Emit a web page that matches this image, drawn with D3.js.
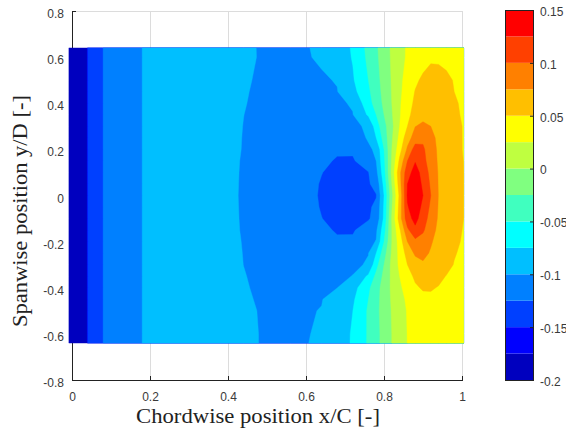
<!DOCTYPE html>
<html>
<head>
<meta charset="utf-8">
<script src="https://cdn.jsdelivr.net/npm/d3@7"></script>
<style>
  body { margin: 0; background: #fff; }
  svg text { font-family: Arial, "Liberation Sans", sans-serif; }
</style>
</head>
<body>
<div id="chart"></div>
<script>
/**
 * DATA
 * */
// contour band edges and their colours (jet, 14 levels)
const levelEdges = [-0.2, -0.175, -0.15, -0.125, -0.1, -0.075, -0.05, -0.025, 0, 0.025, 0.05, 0.075, 0.1, 0.125, 0.15];
const bandColors = ["#0000bf", "#0000ff", "#0040ff", "#0080ff", "#00bfff", "#00ffff", "#40ffbf",
  "#80ff80", "#bfff40", "#ffff00", "#ffbf00", "#ff8000", "#ff4000", "#ff0000"];

// measurement rows (spanwise y/D), top to bottom
const yGrid = [0.64, 0.6, 0.5, 0.45, 0.4, 0.35, 0.3, 0.25, 0.2, 0.15, 0.1, 0.05, 0,
  -0.05, -0.1, -0.15, -0.2, -0.25, -0.3, -0.35, -0.4, -0.45, -0.5, -0.6, -0.64];

// leading edge part: same at every span position
const xLead = [-0.008, 0.039, 0.041, 0.079, 0.081, 0.179, 0.181, 0.3, 0.38];
const leadProfile = [-0.185, -0.18, -0.14, -0.132, -0.115, -0.105, -0.095, -0.09, -0.093];

// aft part: one row per yGrid entry
const xAft = [0.44, 0.5, 0.56, 0.6, 0.64, 0.68, 0.72, 0.76, 0.78, 0.8, 0.82, 0.84, 0.86, 0.88, 0.9, 0.92, 0.94, 0.96, 0.98, 1.004];
const aftField = [
  [-0.0979, -0.1018, -0.1029, -0.1006, -0.0982, -0.0875, -0.0725, -0.0429, -0.0286, -0.0125, 0.0036, 0.0179, 0.0274, 0.0321, 0.0369, 0.0416, 0.0434, 0.0423, 0.0411, 0.0400],
  [-0.0978, -0.1018, -0.1032, -0.1012, -0.0980, -0.0880, -0.0735, -0.0445, -0.0296, -0.0133, 0.0033, 0.0179, 0.0276, 0.0339, 0.0401, 0.0455, 0.0452, 0.0440, 0.0425, 0.0410],
  [-0.0984, -0.1029, -0.1070, -0.1044, -0.1018, -0.0991, -0.0775, -0.0500, -0.0333, -0.0161, 0.0018, 0.0196, 0.0335, 0.0457, 0.0544, 0.0613, 0.0603, 0.0543, 0.0488, 0.0450],
  [-0.0988, -0.1038, -0.1084, -0.1081, -0.1044, -0.1007, -0.0828, -0.0542, -0.0361, -0.0176, 0.0010, 0.0202, 0.0367, 0.0511, 0.0588, 0.0665, 0.0629, 0.0564, 0.0500, 0.0460],
  [-0.0993, -0.1042, -0.1089, -0.1120, -0.1074, -0.1029, -0.0983, -0.0593, -0.0400, -0.0200, 0.0001, 0.0217, 0.0407, 0.0544, 0.0625, 0.0700, 0.0654, 0.0589, 0.0523, 0.0470],
  [-0.0999, -0.1049, -0.1099, -0.1133, -0.1121, -0.1064, -0.1007, -0.0717, -0.0500, -0.0250, -0.0023, 0.0225, 0.0446, 0.0582, 0.0690, 0.0714, 0.0653, 0.0592, 0.0531, 0.0480],
  [-0.1003, -0.1056, -0.1109, -0.1145, -0.1180, -0.1110, -0.1040, -0.0970, -0.0625, -0.0333, -0.0063, 0.0250, 0.0500, 0.0745, 0.0790, 0.0750, 0.0699, 0.0627, 0.0554, 0.0490],
  [-0.1006, -0.1055, -0.1104, -0.1136, -0.1169, -0.1202, -0.1117, -0.0977, -0.0750, -0.0396, -0.0033, 0.0313, 0.0643, 0.0861, 0.0945, 0.0806, 0.0706, 0.0632, 0.0559, 0.0490],
  [-0.1008, -0.1059, -0.1109, -0.1142, -0.1176, -0.1232, -0.1225, -0.1035, -0.0965, -0.0500, 0.0001, 0.0404, 0.0792, 0.1120, 0.1042, 0.0850, 0.0713, 0.0638, 0.0563, 0.0490],
  [-0.1014, -0.1077, -0.1140, -0.1183, -0.1225, -0.1262, -0.1269, -0.1147, -0.1000, -0.0550, 0.0028, 0.0550, 0.1000, 0.1235, 0.1080, 0.0875, 0.0720, 0.0645, 0.0571, 0.0498],
  [-0.1017, -0.1086, -0.1155, -0.1201, -0.1247, -0.1286, -0.1295, -0.1257, -0.1070, -0.0594, 0.0063, 0.0688, 0.1154, 0.1350, 0.1163, 0.0920, 0.0731, 0.0654, 0.0577, 0.0500],
  [-0.1019, -0.1091, -0.1163, -0.1211, -0.1259, -0.1309, -0.1321, -0.1271, -0.1182, -0.0679, 0.0001, 0.0643, 0.1250, 0.1378, 0.1213, 0.0961, 0.0734, 0.0656, 0.0578, 0.0505],
  [-0.1021, -0.1093, -0.1165, -0.1213, -0.1263, -0.1317, -0.1330, -0.1277, -0.1260, -0.0750, -0.0070, 0.0560, 0.1280, 0.1430, 0.1250, 0.1000, 0.0740, 0.0660, 0.0580, 0.0510],
  [-0.1019, -0.1090, -0.1162, -0.1210, -0.1258, -0.1305, -0.1318, -0.1275, -0.1215, -0.0720, -0.0020, 0.0600, 0.1230, 0.1390, 0.1190, 0.0950, 0.0730, 0.0655, 0.0575, 0.0505],
  [-0.1017, -0.1086, -0.1155, -0.1200, -0.1248, -0.1285, -0.1298, -0.1268, -0.1180, -0.0700, 0.0020, 0.0630, 0.1150, 0.1330, 0.1120, 0.0900, 0.0720, 0.0650, 0.0570, 0.0500],
  [-0.1014, -0.1077, -0.1140, -0.1183, -0.1225, -0.1262, -0.1269, -0.1155, -0.1040, -0.0600, 0.0001, 0.0460, 0.0950, 0.1190, 0.1038, 0.0830, 0.0702, 0.0629, 0.0555, 0.0490],
  [-0.1008, -0.1059, -0.1109, -0.1142, -0.1176, -0.1232, -0.1220, -0.1054, -0.0990, -0.0500, 0.0001, 0.0367, 0.0750, 0.0934, 0.0889, 0.0768, 0.0687, 0.0612, 0.0537, 0.0480],
  [-0.1004, -0.1055, -0.1106, -0.1139, -0.1173, -0.1153, -0.1079, -0.1005, -0.0750, -0.0354, 0.0031, 0.0325, 0.0594, 0.0790, 0.0798, 0.0732, 0.0658, 0.0585, 0.0511, 0.0470],
  [-0.1001, -0.1045, -0.1090, -0.1120, -0.1150, -0.1093, -0.1037, -0.0980, -0.0583, -0.0250, 0.0063, 0.0300, 0.0500, 0.0637, 0.0725, 0.0666, 0.0607, 0.0547, 0.0493, 0.0460],
  [-0.0994, -0.1040, -0.1083, -0.1113, -0.1086, -0.1041, -0.0995, -0.0708, -0.0438, -0.0188, 0.0050, 0.0250, 0.0417, 0.0540, 0.0620, 0.0576, 0.0533, 0.0495, 0.0475, 0.0455],
  [-0.0988, -0.1034, -0.1076, -0.1072, -0.1037, -0.1002, -0.0844, -0.0548, -0.0346, -0.0150, 0.0042, 0.0208, 0.0344, 0.0469, 0.0523, 0.0512, 0.0493, 0.0479, 0.0464, 0.0450],
  [-0.0983, -0.1024, -0.1060, -0.1034, -0.1008, -0.0911, -0.0785, -0.0500, -0.0328, -0.0148, 0.0029, 0.0176, 0.0288, 0.0365, 0.0442, 0.0474, 0.0463, 0.0452, 0.0441, 0.0430],
  [-0.0979, -0.1016, -0.1035, -0.1014, -0.0994, -0.0880, -0.0751, -0.0469, -0.0313, -0.0150, 0.0014, 0.0149, 0.0265, 0.0327, 0.0388, 0.0450, 0.0443, 0.0435, 0.0428, 0.0420],
  [-0.0977, -0.1013, -0.1022, -0.1005, -0.0988, -0.0875, -0.0725, -0.0471, -0.0324, -0.0167, 0.0001, 0.0132, 0.0255, 0.0305, 0.0355, 0.0405, 0.0426, 0.0417, 0.0409, 0.0400],
  [-0.0977, -0.1013, -0.1021, -0.1003, -0.0986, -0.0873, -0.0723, -0.0470, -0.0323, -0.0167, 0.0001, 0.0132, 0.0254, 0.0303, 0.0352, 0.0402, 0.0425, 0.0416, 0.0408, 0.0400]
];

const xTicks = [0, 0.2, 0.4, 0.6, 0.8, 1];
const yTicks = [-0.8, -0.6, -0.4, -0.2, 0, 0.2, 0.4, 0.6, 0.8];
const cbTicks = [-0.2, -0.15, -0.1, -0.05, 0, 0.05, 0.1, 0.15];

/**
 * LAYOUT
 * */
const width = 566, height = 435;
const plot = { left: 72, right: 462, top: 11, bottom: 380 };
const bar = { left: 505, right: 533, top: 10, bottom: 380 };

const fmt = d => (d === 0 ? "0" : String(+d.toFixed(2)));

const svg = d3.select("#chart").append("svg")
  .attr("width", width)
  .attr("height", height);

const x = d3.scaleLinear().domain([0, 1]).range([plot.left, plot.right]);
const y = d3.scaleLinear().domain([-0.8, 0.8]).range([plot.bottom, plot.top]);

// grid
svg.append("g")
  .selectAll("line")
  .data(xTicks.slice(1))
  .join("line")
  .attr("x1", d => x(d)).attr("x2", d => x(d))
  .attr("y1", plot.top).attr("y2", plot.bottom)
  .attr("stroke", "#dcdcdc").attr("stroke-width", 1)
  .attr("shape-rendering", "crispEdges");
svg.append("g")
  .selectAll("line")
  .data(yTicks.slice(1))
  .join("line")
  .attr("x1", plot.left).attr("x2", plot.right)
  .attr("y1", d => y(d)).attr("y2", d => y(d))
  .attr("stroke", "#dcdcdc").attr("stroke-width", 1)
  .attr("shape-rendering", "crispEdges");

// axes (ticks point inward)
const xAxis = svg.append("g")
  .attr("transform", `translate(0,${plot.bottom})`)
  .call(d3.axisBottom(x).tickValues(xTicks).tickFormat(fmt).tickSizeInner(-4).tickSizeOuter(0).tickPadding(12));
const yAxis = svg.append("g")
  .attr("transform", `translate(${plot.left},0)`)
  .call(d3.axisLeft(y).tickValues(yTicks).tickFormat(fmt).tickSizeInner(-4).tickSizeOuter(0).tickPadding(8));

[xAxis, yAxis].forEach(g => {
  g.select(".domain").attr("stroke", "#222").attr("shape-rendering", "crispEdges");
  g.selectAll(".tick line").attr("stroke", "#222");
  g.selectAll(".tick text").attr("fill", "#3a3a3a").style("font-size", "12px");
});
yAxis.selectAll(".tick text").attr("dy", "0.55em");

// filled contours
const xGrid = xLead.concat(xAft);
const values = aftField.map(row => leadProfile.concat(row)).flat();
const nx = xGrid.length, ny = yGrid.length;

const colToX = d3.scaleLinear().domain(d3.range(nx)).range(xGrid).clamp(true);
const rowToY = d3.scaleLinear().domain(d3.range(ny)).range(yGrid).clamp(true);
const path = d3.geoPath(d3.geoTransform({
  point(px, py) {
    this.stream.point(x(colToX(px - 0.5)), y(rowToY(py - 0.5)));
  }
}));

const bands = d3.contours()
  .size([nx, ny])
  .thresholds(levelEdges.slice(0, -1))(values);

svg.append("g")
  .selectAll("path")
  .data(bands)
  .join("path")
  .attr("d", path)
  .attr("fill", (d, i) => bandColors[i])
  .attr("stroke", (d, i) => bandColors[i])
  .attr("stroke-width", 0.4);

// axis labels
svg.append("text")
  .attr("x", 258).attr("y", 423)
  .attr("text-anchor", "middle")
  .attr("textLength", 244).attr("lengthAdjust", "spacingAndGlyphs")
  .style("font-family", "'Liberation Serif', 'DejaVu Serif', serif")
  .style("font-size", "22px")
  .attr("fill", "#222")
  .text("Chordwise position x/C [-]");

svg.append("text")
  .attr("transform", "translate(27,211) rotate(-90)")
  .attr("text-anchor", "middle")
  .attr("textLength", 232).attr("lengthAdjust", "spacingAndGlyphs")
  .style("font-family", "'Liberation Serif', 'DejaVu Serif', serif")
  .style("font-size", "22px")
  .attr("fill", "#222")
  .text("Spanwise position y/D [-]");

// colour bar
const cb = d3.scaleLinear().domain([levelEdges[0], levelEdges[levelEdges.length - 1]]).range([bar.bottom, bar.top]);
const cbG = svg.append("g");
cbG.selectAll("rect")
  .data(bandColors)
  .join("rect")
  .attr("x", bar.left)
  .attr("width", bar.right - bar.left)
  .attr("y", (d, i) => cb(levelEdges[i + 1]))
  .attr("height", (d, i) => cb(levelEdges[i]) - cb(levelEdges[i + 1]))
  .attr("fill", d => d);
cbG.append("rect")
  .attr("x", bar.left).attr("y", bar.top)
  .attr("width", bar.right - bar.left).attr("height", bar.bottom - bar.top)
  .attr("fill", "none").attr("stroke", "#222").attr("stroke-width", 1)
  .attr("shape-rendering", "crispEdges");

const cbAxis = svg.append("g")
  .attr("transform", `translate(${bar.right},0)`)
  .call(d3.axisRight(cb).tickValues(cbTicks).tickFormat(fmt).tickSizeInner(-3).tickSizeOuter(0).tickPadding(7));
cbAxis.select(".domain").remove();
cbAxis.selectAll(".tick line").attr("stroke", "#222");
cbAxis.selectAll(".tick text").attr("fill", "#3a3a3a").style("font-size", "12px").attr("dy", "0.45em");
</script>
</body>
</html>
